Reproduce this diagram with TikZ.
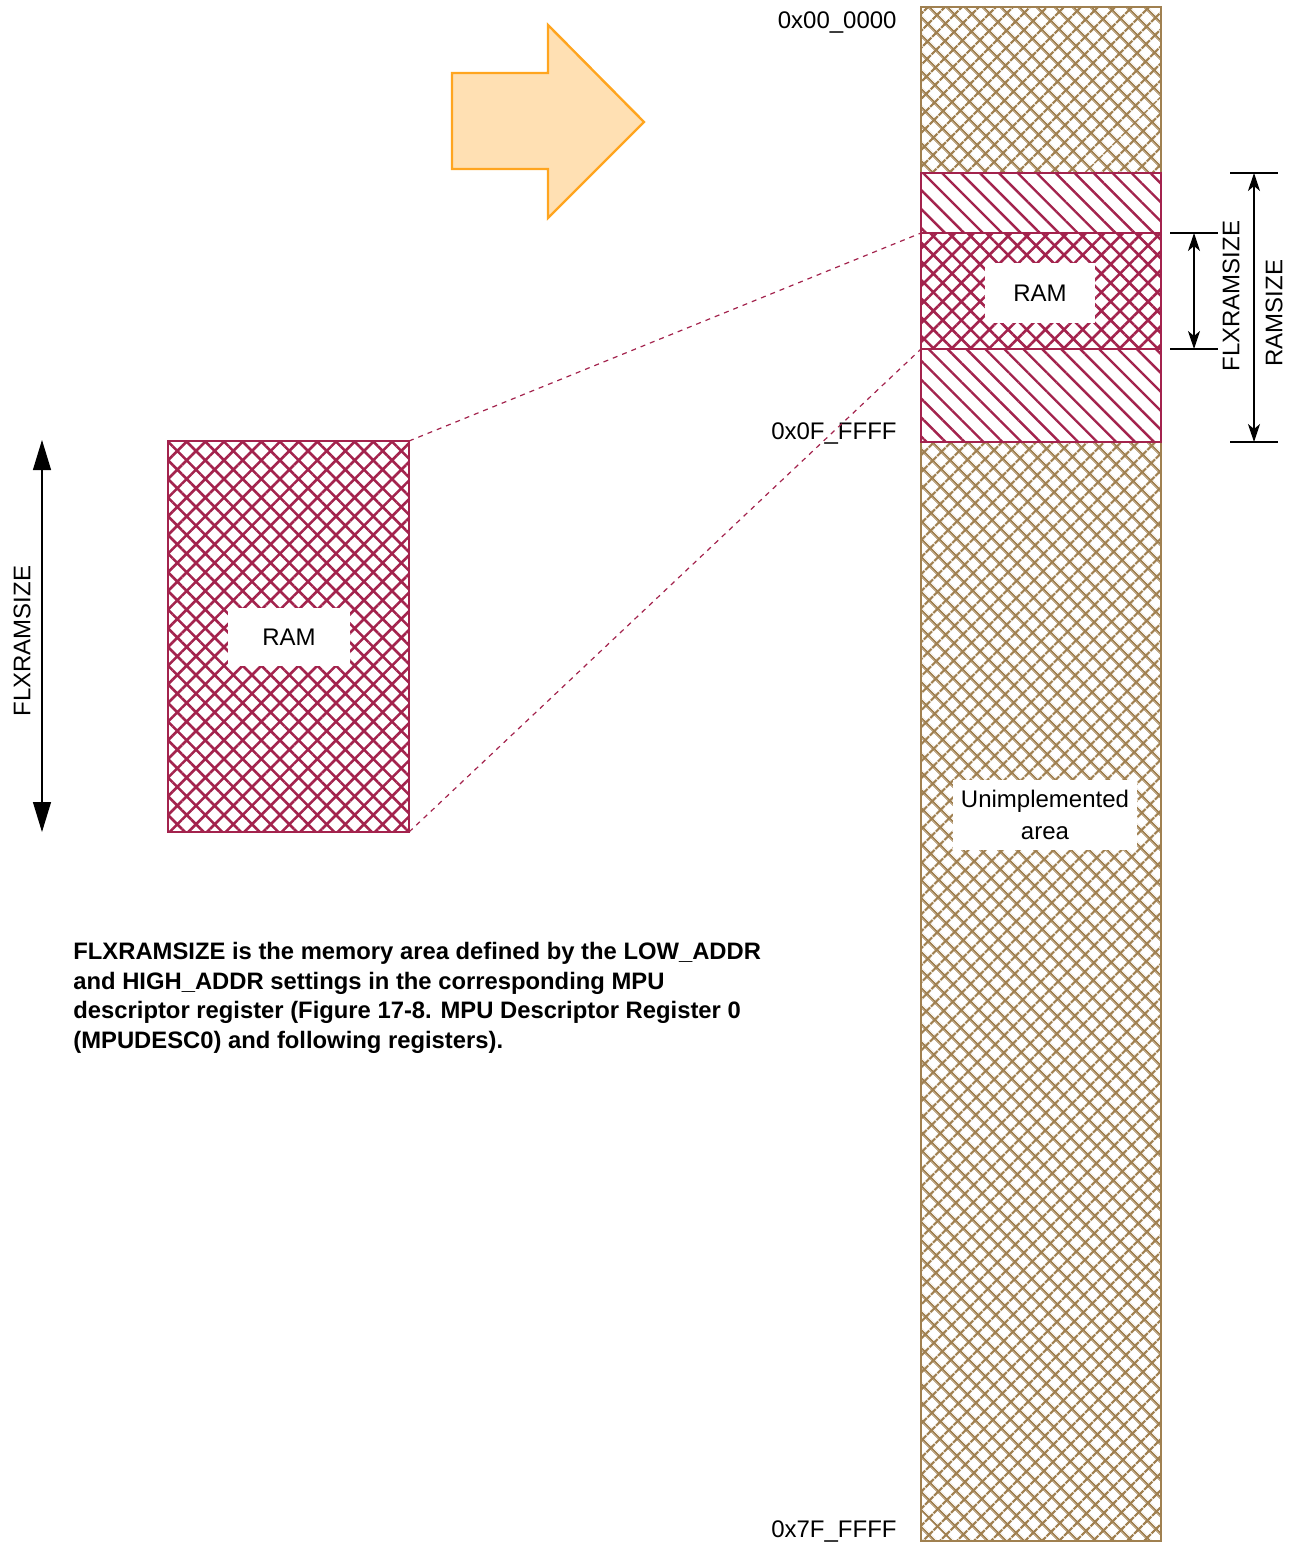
\documentclass[tikz,border=0pt]{standalone}
\usepackage{fontspec}
\setmainfont{Liberation Sans}
\usetikzlibrary{patterns.meta,arrows.meta}
\definecolor{tan}{HTML}{A08050}
\definecolor{ramred}{HTML}{A3234D}
\definecolor{arrfill}{HTML}{FFE0B3}
\definecolor{arrline}{HTML}{FFA51F}
\tikzset{
  tanhatch/.style={pattern={Hatch[angle=45,distance=6.5pt,line width=1.2pt]},pattern color=tan},
  redhatch/.style={pattern={Hatch[angle=45,distance=6.6pt,line width=1.3pt]},pattern color=ramred},
  redlines/.style={pattern={Lines[angle=-45,distance=6.7pt,line width=1.2pt]},pattern color=ramred},
  redbox/.style={draw=ramred,line width=1.3pt},
  lbl/.style={font=\fontsize{12pt}{14pt}\selectfont,inner sep=0pt},
  whitebox/.style={fill=white,inner sep=0pt,font=\fontsize{12pt}{16pt}\selectfont,align=center},
  dimline/.style={line width=0.6pt},
  dimarrow/.style={line width=0.6pt,{Stealth[length=9pt,width=6pt,inset=2.5pt]}-{Stealth[length=9pt,width=6pt,inset=2.5pt]}},
  bigarrow/.style={line width=0.6pt,{Triangle[length=15pt,width=9pt]}-{Triangle[length=15pt,width=9pt]}},
  conn/.style={draw=ramred,line width=0.6pt,dash pattern=on 2.5pt off 2.5pt}
}
\begin{document}
\begin{tikzpicture}[x=0.5pt,y=-0.5pt]
\useasboundingbox (0,0) rectangle (1297,1543);
% main memory column
\coordinate (colTL) at (921,7);
\coordinate (colBR) at (1161,1541);
\fill[white] (colTL) rectangle (colBR);
\fill[tanhatch] (colTL) rectangle (colBR);
% RAMSIZE region
\coordinate (rsTL) at (921,173);
\coordinate (rsBR) at (1161,442);
\fill[white] (rsTL) rectangle (rsBR);
\fill[redlines] (rsTL) rectangle (rsBR);
% FLXRAMSIZE region
\coordinate (fxTL) at (921,233);
\coordinate (fxBR) at (1161,349);
\coordinate (fxTR) at (1161,233);
\coordinate (fxBL) at (921,349);
\fill[white] (fxTL) rectangle (fxBR);
\fill[redhatch] (fxTL) rectangle (fxBR);
\draw[tan,line width=1.2pt] (colTL) rectangle (colBR);
\draw[redbox] (rsTL) rectangle (rsBR);
\draw[redbox] (fxTL) rectangle (fxBR);
\node[whitebox,minimum width=55pt,minimum height=30pt] (ramR) at (1040,293) {RAM};
\node[whitebox,minimum width=92pt,minimum height=35pt] (unimp) at (1045,815) {Unimplemented\\area};
% address labels
\node[lbl,anchor=east] (a0) at (897,23) {0x00\_0000};
\node[lbl,anchor=east] (a1) at (897,433) {0x0F\_FFFF};
\node[lbl,anchor=east] (a2) at (897,1531) {0x7F\_FFFF};
% RAMSIZE dimension
\coordinate (rt1) at (1230,173); \coordinate (rt2) at (1278,173);
\coordinate (rb1) at (1230,442); \coordinate (rb2) at (1278,442);
\draw[dimline] (rt1) -- (rt2);
\draw[dimline] (rb1) -- (rb2);
\coordinate (ra) at (1254,173); \coordinate (rb) at (1254,442);
\draw[dimarrow] (ra) -- (rb);
\node[lbl,rotate=90] (rslbl) at (1274,313) {RAMSIZE};
% FLXRAMSIZE dimension (right)
\coordinate (ft1) at (1170,233); \coordinate (ft2) at (1218,233);
\coordinate (fb1) at (1170,349); \coordinate (fb2) at (1218,349);
\draw[dimline] (ft1) -- (ft2);
\draw[dimline] (fb1) -- (fb2);
\coordinate (fa) at (1194,233); \coordinate (fb) at (1194,349);
\draw[dimarrow] (fa) -- (fb);
\node[lbl,rotate=90] (fxlbl) at (1231,296) {FLXRAMSIZE};
% left RAM block
\coordinate (lTL) at (168,441);
\coordinate (lBR) at (409,832);
\coordinate (lTR) at (409,441);
\coordinate (lBL) at (168,832);
\fill[white] (lTL) rectangle (lBR);
\fill[redhatch] (lTL) rectangle (lBR);
\draw[redbox] (lTL) rectangle (lBR);
\node[whitebox,minimum width=61pt,minimum height=29pt] (ramL) at (289,637) {RAM};
% dashed connectors
\draw[conn] (lTR) -- (fxTL);
\draw[conn] (lBR) -- (fxBL);
% left arrow
\coordinate (la) at (42,440); \coordinate (lb) at (42,832);
\draw[bigarrow] (la) -- (lb);
\node[lbl,rotate=90] (lflx) at (22,641) {FLXRAMSIZE};
% orange arrow
\draw[arrline,fill=arrfill,line width=1.2pt,line join=miter]
  (452,73) -- (548,73) -- (548,25) -- (644,122) -- (548,218) -- (548,169) -- (452,169) -- cycle;
% note
\node[anchor=north west,inner sep=0pt,align=left,font=\fontsize{11.9pt}{14.75pt}\selectfont\bfseries] (note) at (73,942)
{FLXRAMSIZE is the memory area defined by the LOW\_ADDR\\
and HIGH\_ADDR settings in the corresponding MPU\\
descriptor register (Figure 17-8. MPU Descriptor Register 0\\
(MPUDESC0) and following registers).};
\end{tikzpicture}
\end{document}
